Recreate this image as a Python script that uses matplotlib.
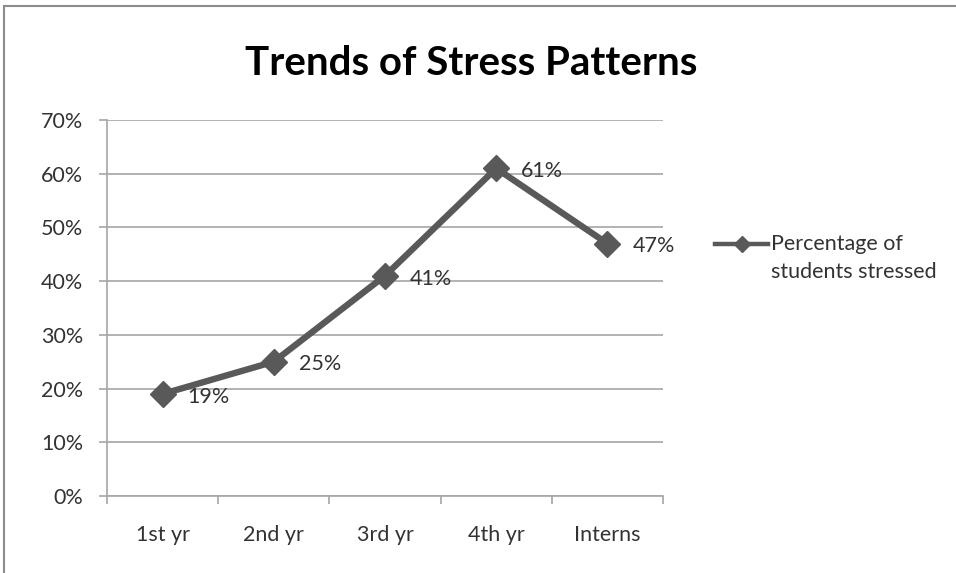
import matplotlib
matplotlib.use("Agg")
import matplotlib.pyplot as plt
from matplotlib.patches import Rectangle
from matplotlib.lines import Line2D

categories = ["1st yr", "2nd yr", "3rd yr", "4th yr", "Interns"]
values = [19, 25, 41, 61, 47]
yticks = [0, 10, 20, 30, 40, 50, 60, 70]
series_name = "Percentage of\nstudents stressed"
title = "Trends of Stress Patterns"

plt.rcParams['font.family'] = ['Lato', 'DejaVu Sans']
line_color = "#595959"
grid_color = "#a6a6a6"
text_color = "#333333"
fs = 15.5

fig = plt.figure(figsize=(9.56, 5.73), dpi=100)
fig.patch.set_facecolor("white")

# outer border
fig.add_artist(Rectangle((4/956, -0.01), 1.0, 1 - 6/573 + 0.01, transform=fig.transFigure,
                         fill=False, edgecolor="#8c8c8c", linewidth=1.5))

ax = fig.add_axes([107/956, 1 - 496/573, 556/956, 376/573])
x = list(range(len(categories)))
ax.plot(x, values, color=line_color, linewidth=4.6, marker="D", markersize=13,
        markerfacecolor=line_color, markeredgecolor=line_color, zorder=3)

for xi, v in zip(x, values):
    ax.annotate(f"{v}%", (xi, v), xytext=(18, -2), textcoords="offset points",
                ha="left", va="center", fontsize=fs, color=text_color)

ax.set_xlim(-0.5, len(categories) - 0.5)
ax.set_ylim(0, 70)
ax.set_yticks(yticks)
ax.set_yticklabels([f"{t}%" for t in yticks], fontsize=fs, color=text_color)
ax.set_xticks(x)
ax.set_xticklabels(categories, fontsize=fs, color=text_color)
ax.tick_params(axis="x", length=0, pad=21)
ax.set_xticks([i - 0.5 for i in range(len(categories) + 1)], minor=True)
ax.tick_params(axis="x", which="minor", length=6, color=grid_color, width=1.2)
ax.tick_params(axis="y", length=6, color=grid_color, width=1.2, pad=11)
ax.grid(axis="y", color=grid_color, linewidth=1.2)
ax.set_axisbelow(True)
for s in ["top", "right"]:
    ax.spines[s].set_visible(False)
for s in ["left", "bottom"]:
    ax.spines[s].set_color(grid_color)
    ax.spines[s].set_linewidth(1.2)

fig.text(471/956, 1 - 63/573, title, ha="center", va="center", fontsize=29,
         fontweight="bold", color="black")

# legend drawn manually: handle aligned with first text line
ly = 1 - 244/573
fig.add_artist(Line2D([715/956, 768/956], [ly, ly], transform=fig.transFigure,
                      color=line_color, linewidth=3.2))
fig.add_artist(Line2D([741.5/956], [ly], transform=fig.transFigure, color=line_color,
                      marker="D", markersize=8, linestyle="none"))
fig.text(771/956, 1 - 234/573, series_name, ha="left", va="top", fontsize=fs,
         color=text_color, linespacing=1.5)

fig.savefig("out.png", dpi=100)
